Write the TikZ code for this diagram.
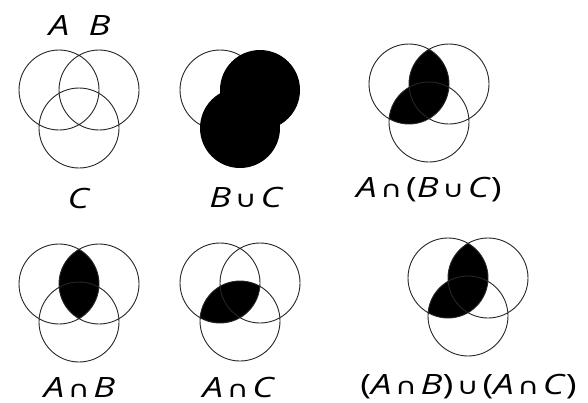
\documentclass[tikz,border=0pt]{standalone}
\usepackage{fontspec}
\setmainfont{Open Sans}
\newfontfamily\opfont{DejaVu Sans}
\usepackage{graphicx}
\usepackage{tikz}
\usetikzlibrary{positioning}
\tikzset{
  setring/.style={draw=black!85,line width=0.9pt},
  setfill/.style={fill=black},
  setlabel/.style={font=\fontsize{28}{30}\selectfont,inner sep=0pt,anchor=base}
}
\newcommand{\sv}[1]{\textit{#1}}
\newcommand{\op}[1]{\hspace{0.1em}{\opfont\fontsize{23}{23}\selectfont #1}\hspace{0.1em}}
\newcommand{\wide}[1]{\scalebox{1.3}[1]{#1}}

\begin{document}
\begin{tikzpicture}[x=1pt,y=-1pt]
\useasboundingbox (0,0) rectangle (588,402);
% Top left: the three sets
\begin{scope}[shift={(79,90)}]
\coordinate (A) at (-20,0); \coordinate (B) at (20,0); \coordinate (C) at (0,38);
\draw[setring] (A) circle (40) (B) circle (40) (C) circle (40);
\end{scope}
\node[setlabel] (labA) at (59,35) {\wide{\sv{A}}};
\node[setlabel] (labB) at (99.5,35) {\wide{\sv{B}}};
\node[setlabel] (labC) at (79,208) {\wide{\sv{C}}};
% Top middle: B union C
\begin{scope}[shift={(240,90)}]
\coordinate (A) at (-20,0); \coordinate (B) at (20,0); \coordinate (C) at (0,38);
\draw[setring] (A) circle (40);
\fill[setfill] (B) circle (40) (C) circle (40);
\end{scope}
\node[setlabel] (labBuC) at (246.5,207) {\wide{\sv{B}\op{∪}\sv{C}}};
% Top right: A cap (B cup C)
\begin{scope}[shift={(429,84)}]
\coordinate (A) at (-20,0); \coordinate (B) at (20,0); \coordinate (C) at (0,38);
\begin{scope}
\clip (A) circle (40);
\fill[setfill] (B) circle (40) (C) circle (40);
\end{scope}
\draw[setring] (A) circle (40) (B) circle (40) (C) circle (40);
\end{scope}
\node[setlabel] (labAnBuC) at (429,197) {\wide{\sv{A}\op{∩}(\sv{B}\op{∪}\sv{C})}};
% Bottom left: A cap B
\begin{scope}[shift={(79,284)}]
\coordinate (A) at (-20,0); \coordinate (B) at (20,0); \coordinate (C) at (0,38);
\begin{scope}
\clip (A) circle (40);
\fill[setfill] (B) circle (40);
\end{scope}
\draw[setring] (A) circle (40) (B) circle (40) (C) circle (40);
\end{scope}
\node[setlabel] (labAnB) at (79.5,397) {\wide{\sv{A}\op{∩}\sv{B}}};
% Bottom middle: A cap C
\begin{scope}[shift={(240,283)}]
\coordinate (A) at (-20,0); \coordinate (B) at (20,0); \coordinate (C) at (0,38);
\begin{scope}
\clip (A) circle (40);
\fill[setfill] (C) circle (40);
\end{scope}
\draw[setring] (A) circle (40) (B) circle (40) (C) circle (40);
\end{scope}
\node[setlabel] (labAnC) at (239,397) {\wide{\sv{A}\op{∩}\sv{C}}};
% Bottom right: (A cap B) cup (A cap C)
\begin{scope}[shift={(468,278)}]
\coordinate (A) at (-20,0); \coordinate (B) at (20,0); \coordinate (C) at (0,38);
\begin{scope}
\clip (A) circle (40);
\fill[setfill] (B) circle (40) (C) circle (40);
\end{scope}
\draw[setring] (A) circle (40) (B) circle (40) (C) circle (40);
\end{scope}
\node[setlabel] (labAnBuAnC) at (468.5,394) {\wide{(\sv{A}\op{∩}\sv{B})\op{∪}(\sv{A}\op{∩}\sv{C})}};
\end{tikzpicture}
\end{document}
